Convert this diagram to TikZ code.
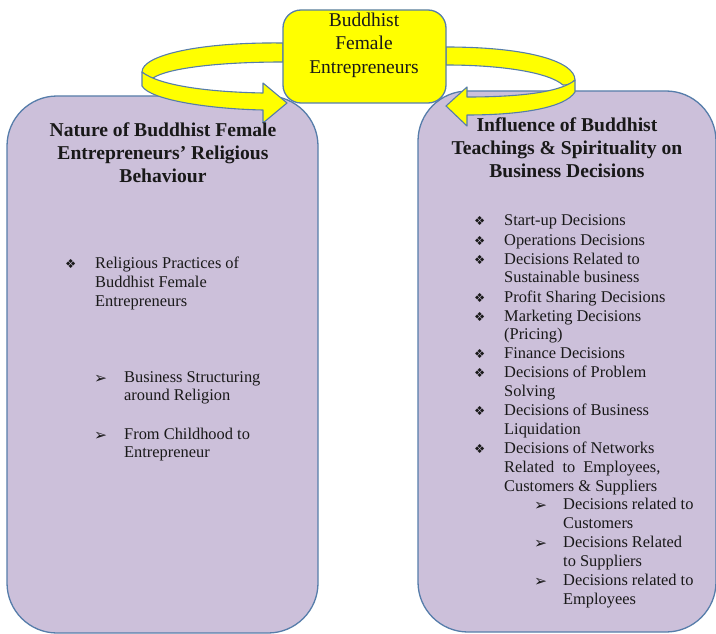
\documentclass[tikz,border=0pt]{standalone}
\usepackage{fontspec}
\setmainfont{Liberation Serif}
\newfontfamily\dingfont{DejaVu Sans}
\definecolor{boxfill}{RGB}{204,192,218}
\definecolor{boxline}{RGB}{86,125,170}
\definecolor{ylw}{RGB}{255,255,0}
\definecolor{txt}{RGB}{25,25,25}
\tikzset{
  purplebox/.style={draw=boxline, fill=boxfill, line width=1.3pt, rounded corners=50pt, inner sep=0pt},
  yellowbox/.style={draw=boxline, fill=ylw, line width=1.3pt, rounded corners=18pt, inner sep=0pt},
  ribbon/.style={draw=boxline, fill=ylw, line width=1.1pt, line join=round},
  body/.style={font=\rmfamily\fontsize{16.4}{19}\selectfont, text=txt, anchor=base west, inner sep=0pt},
  diam/.style={font=\dingfont\fontsize{12.5}{13}\selectfont, text=txt, anchor=base west, inner sep=0pt},
  arrowbul/.style={font=\dingfont\fontsize{15.5}{16}\selectfont, text=txt, anchor=base west, inner sep=0pt},
  title/.style={font=\rmfamily\bfseries\fontsize{19.6}{23}\selectfont, text=txt, align=center, inner sep=0pt},
}
\begin{document}
\begin{tikzpicture}[x=1pt,y=-1pt]
\useasboundingbox (0,0) rectangle (716,634);
% purple boxes
\node[purplebox, minimum width=311pt, minimum height=537pt] (leftbox) at (162.5,364.5) {};
\node[purplebox, minimum width=298pt, minimum height=541pt] (rightbox) at (567,361.5) {};
% left ribbon arrow
\path[ribbon] (283,43) .. controls (200,42) and (142,55) .. (142,72)
  .. controls (145,76) and (150,78) .. (153,78)
  .. controls (168,68) and (220,62) .. (283,62) -- cycle;
\path[ribbon] (142,72) -- (142,86) .. controls (150,100) and (210,109) .. (263,110)
  -- (263,123) -- (287,103) -- (263,83) -- (263,93)
  .. controls (210,92) and (160,86) .. (142,72) -- cycle;
% right ribbon arrow
\path[ribbon] (446,47) .. controls (530,47) and (575,62) .. (575,80)
  .. controls (572,84) and (568,85) .. (563,85)
  .. controls (548,72) and (500,65) .. (446,65) -- cycle;
\path[ribbon] (575,80) -- (575,92) .. controls (565,108) and (520,115) .. (467,115)
  -- (467,126) -- (446,106) -- (467,87) -- (467,97)
  .. controls (515,97) and (560,93) .. (575,80) -- cycle;
% top box
\node[yellowbox, minimum width=163pt, minimum height=93pt] (topbox) at (364.5,56.5) {};
\node[font=\rmfamily\fontsize{19.5}{23.5}\selectfont, text=txt, align=center, inner sep=0pt] (toptext) at (364,45) {Buddhist\\Female\\Entrepreneurs};
% titles
\node[title] (lefttitle) at (163,153) {Nature of Buddhist Female\\Entrepreneurs’ Religious\\Behaviour};
\node[title] (righttitle) at (567,148) {Influence of Buddhist\\Teachings \& Spirituality on\\Business Decisions};
% left list
\node[diam] (lb1) at (65,268) {❖};
\node[body] (l1) at (95,268) {Religious Practices of};
\node[body] (l2) at (95,287) {Buddhist Female};
\node[body] (l3) at (95,306) {Entrepreneurs};
\node[arrowbul] (la1) at (94,383) {➢};
\node[body] (l4) at (124,382) {Business Structuring};
\node[body] (l5) at (124,400) {around Religion};
\node[arrowbul] (la2) at (94,440) {➢};
\node[body] (l6) at (124,439) {From Childhood to};
\node[body] (l7) at (124,457) {Entrepreneur};
% right list
\foreach \yy/\nm in {225/b1,245/b2,264/b3,302/b4,321/b5,358/b6,377/b7,415/b8,453/b9}
  \node[diam] (r\nm) at (474,\yy) {❖};
\foreach \yy/\nm in {510/a1,548/a2,586/a3}
  \node[arrowbul] (r\nm) at (534,\yy) {➢};
\node[body] (r1) at (504,225) {Start-up Decisions};
\node[body] (r2) at (504,245) {Operations Decisions};
\node[body] (r3) at (504,264) {Decisions Related to};
\node[body] (r4) at (504,282) {Sustainable business};
\node[body] (r5) at (504,302) {Profit Sharing Decisions};
\node[body] (r6) at (504,321) {Marketing Decisions};
\node[body] (r7) at (504,339) {(Pricing)};
\node[body] (r8) at (504,358) {Finance Decisions};
\node[body] (r9) at (504,377) {Decisions of Problem};
\node[body] (r10) at (504,396) {Solving};
\node[body] (r11) at (504,415) {Decisions of Business};
\node[body] (r12) at (504,434) {Liquidation};
\node[body] (r13) at (504,453) {Decisions of Networks};
\node[body] (r14) at (504,472) {Related\ \ to\ \ Employees,};
\node[body] (r15) at (504,491) {Customers \& Suppliers};
\node[body] (r16) at (563,509) {Decisions related to};
\node[body] (r17) at (563,528) {Customers};
\node[body] (r18) at (563,547) {Decisions Related};
\node[body] (r19) at (563,566) {to Suppliers};
\node[body] (r20) at (563,585) {Decisions related to};
\node[body] (r21) at (563,604) {Employees};
\end{tikzpicture}
\end{document}
